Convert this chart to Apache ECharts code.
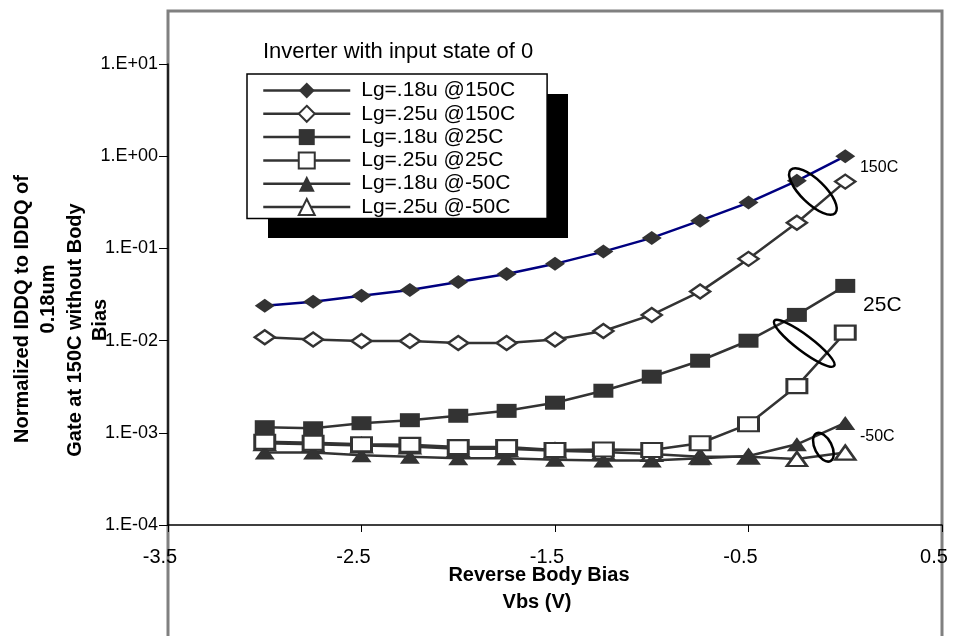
<!DOCTYPE html>
<html><head><meta charset="utf-8">
<script src="https://cdn.jsdelivr.net/npm/echarts@6/dist/echarts.min.js"></script>
<style>html,body{margin:0;padding:0;background:#fff}#c{width:953px;height:636px}</style>
</head><body><div id="c"></div>
<script>
// ---- data ----
const xValues = [-3, -2.75, -2.5, -2.25, -2, -1.75, -1.5, -1.25, -1, -0.75, -0.5, -0.25, 0];
const lg18_150C = [0.0239, 0.0264, 0.0307, 0.0354, 0.0433, 0.0528, 0.068, 0.0923, 0.130, 0.200, 0.314, 0.541, 1.0];
const lg25_150C = [0.0109, 0.0103, 0.0099, 0.0099, 0.0094, 0.0094, 0.0103, 0.0127, 0.019, 0.034, 0.077, 0.19, 0.53];
const lg18_25C = [0.00115, 0.00112, 0.00127, 0.00137, 0.00153, 0.00173, 0.00212, 0.00286, 0.00406, 0.00605, 0.00997, 0.019, 0.0392];
const lg25_25C = [0.00080, 0.00078, 0.00075, 0.00074, 0.00070, 0.00070, 0.00065, 0.00066, 0.00065, 0.00077, 0.00124, 0.00321, 0.0122];
const lg18_m50C = [0.00061, 0.00061, 0.00057, 0.00055, 0.00053, 0.00053, 0.00051, 0.00050, 0.00050, 0.00053, 0.00056, 0.00075, 0.00128];
const lg25_m50C = [0.00077, 0.00075, 0.00073, 0.00071, 0.00067, 0.00067, 0.00064, 0.00062, 0.00059, 0.00055, 0.00055, 0.00052, 0.00061];
const seriesNames = ['Lg=.18u @150C', 'Lg=.25u @150C', 'Lg=.18u @25C', 'Lg=.25u @25C', 'Lg=.18u @-50C', 'Lg=.25u @-50C'];
const xTickValues = [-3.5, -2.5, -1.5, -0.5, 0.5];
const xTickLabels = ['-3.5', '-2.5', '-1.5', '-0.5', '0.5'];
const yTickLabels = {'-4': '1.E-04', '-3': '1.E-03', '-2': '1.E-02', '-1': '1.E-01', '0': '1.E+00', '1': '1.E+01'};
const chartTitle = 'Inverter with input state of 0';
const xTitleLines = ['Reverse Body Bias', 'Vbs (V)'];
const yTitleLines = ['Normalized IDDQ to IDDQ of', '0.18um', 'Gate at 150C without Body', 'Bias'];
// annotation anchors in data coordinates
const groupLabels = [
  {text: '150C', at: [0.076, 0.748], size: 16},
  {text: '25C', at: [0.092, 0.0244], size: 21},
  {text: '-50C', at: [0.076, 0.00092], size: 16}
];
const groupEllipses = [
  {at: [-0.167, 0.414], rx: 31, ry: 12, angle: -44},
  {at: [-0.212, 0.00935], rx: 37.5, ry: 8, angle: -37},
  {at: [-0.113, 0.000697], rx: 15.5, ry: 8.5, angle: -63}
];

const FONT = '"Liberation Sans", Arial, sans-serif';
const dark = '#333333';

function mk(name, vals, symbol, filled, lineColor, z) {
  return {
    name: name, type: 'line', z: z,
    data: xValues.map((x, i) => [x, vals[i]]),
    symbol: symbol, symbolSize: [20, 14], showSymbol: true,
    lineStyle: {color: lineColor, width: 2.5},
    itemStyle: {color: filled ? dark : '#ffffff', borderColor: dark, borderWidth: filled ? 0 : 2.5},
    emphasis: {disabled: true},
    animation: false
  };
}

const series = [
  mk(seriesNames[5], lg25_m50C, 'triangle', false, dark, 2),
  mk(seriesNames[4], lg18_m50C, 'triangle', true, dark, 3),
  mk(seriesNames[3], lg25_25C, 'rect', false, dark, 4),
  mk(seriesNames[2], lg18_25C, 'rect', true, dark, 5),
  mk(seriesNames[1], lg25_150C, 'diamond', false, dark, 6),
  mk(seriesNames[0], lg18_150C, 'diamond', true, '#000080', 7)
];

const chart = echarts.init(document.getElementById('c'), null, {renderer: 'canvas'});
const option = {
  backgroundColor: '#ffffff',
  animation: false,
  title: {
    text: chartTitle, left: 258, top: 36, padding: 5,
    textStyle: {fontFamily: FONT, fontSize: 22, fontWeight: 'normal', color: '#000'}
  },
  legend: {
    orient: 'vertical', left: 247, top: 74, z: 20,
    data: seriesNames.map(n => ({name: n, lineStyle: {color: dark, width: 2.5}})),
    itemWidth: 87, itemHeight: 20, itemGap: 2.3,
    padding: [6, 32, 1, 15],
    backgroundColor: '#ffffff', borderColor: '#000000', borderWidth: 1.5,
    selectedMode: false,
    textStyle: {fontFamily: FONT, fontSize: 21, color: '#000', padding: [0, 0, 0, 6]}
  },
  grid: {left: 168, right: 11, top: 64, bottom: 111, containLabel: false},
  xAxis: {
    type: 'value', min: -3.5, max: 0.5,
    axisLine: {show: true, onZero: false, lineStyle: {color: '#000', width: 1.5}},
    axisTick: {show: true, customValues: xTickValues, length: 7, lineStyle: {color: '#000', width: 1}},
    axisLabel: {
      customValues: xTickValues, margin: 22, fontFamily: FONT, fontSize: 20, color: '#000',
      padding: [0, 16, 0, 0],
      formatter: v => xTickLabels[xTickValues.indexOf(v)] ?? String(v)
    },
    splitLine: {show: false}
  },
  yAxis: {
    type: 'log', logBase: 10, min: 1e-4, max: 10, splitNumber: 5,
    axisLine: {show: true, onZero: false, lineStyle: {color: '#000', width: 1.5}},
    axisTick: {show: true, length: 9, lineStyle: {color: '#000', width: 1}},
    axisLabel: {
      margin: 10, fontFamily: FONT, fontSize: 18, color: '#000',
      formatter: v => yTickLabels[String(Math.round(Math.log10(v)))] || ''
    },
    splitLine: {show: false},
    minorTick: {show: false}
  },
  series: series
};
chart.setOption(option);

const px = p => chart.convertToPixel({xAxisIndex: 0, yAxisIndex: 0}, p);
const g = [];
// outer plot frame
g.push({type: 'rect', z: -10, silent: true,
  shape: {x: 168, y: 11, width: 774, height: 700},
  style: {fill: null, stroke: '#808080', lineWidth: 3}});
// legend drop shadow
g.push({type: 'rect', z: 19, silent: true,
  shape: {x: 268, y: 94, width: 300, height: 144},
  style: {fill: '#000000', stroke: null}});
// ellipses
groupEllipses.forEach(e => {
  const c = px(e.at);
  g.push({type: 'ellipse', z: 100, silent: true, x: c[0], y: c[1], rotation: e.angle * Math.PI / 180,
    shape: {cx: 0, cy: 0, rx: e.rx, ry: e.ry},
    style: {fill: null, stroke: '#000', lineWidth: 2.5}});
});
// group labels
groupLabels.forEach(l => {
  const c = px(l.at);
  g.push({type: 'text', z: 100, silent: true, x: c[0], y: c[1],
    style: {text: l.text, fontFamily: FONT, fontSize: l.size, fill: '#000', align: 'left', verticalAlign: 'middle'}});
});
// x axis title
const xTitlePos = [[539, 575], [537, 602]];
xTitleLines.forEach((t, i) => {
  g.push({type: 'text', z: 100, silent: true, x: xTitlePos[i][0], y: xTitlePos[i][1],
    style: {text: t, fontFamily: FONT, fontSize: 20, fontWeight: 'bold', fill: '#000', align: 'center', verticalAlign: 'middle'}});
});
// y axis title (rotated)
const yTitlePos = [[22, 309], [48, 299], [75, 330], [100, 320]];
yTitleLines.forEach((t, i) => {
  g.push({type: 'text', z: 100, silent: true, x: yTitlePos[i][0], y: yTitlePos[i][1], rotation: Math.PI / 2,
    style: {text: t, fontFamily: FONT, fontSize: 20, fontWeight: 'bold', fill: '#000', align: 'center', verticalAlign: 'middle'}});
});
chart.setOption({graphic: g});
</script>
</body></html>
